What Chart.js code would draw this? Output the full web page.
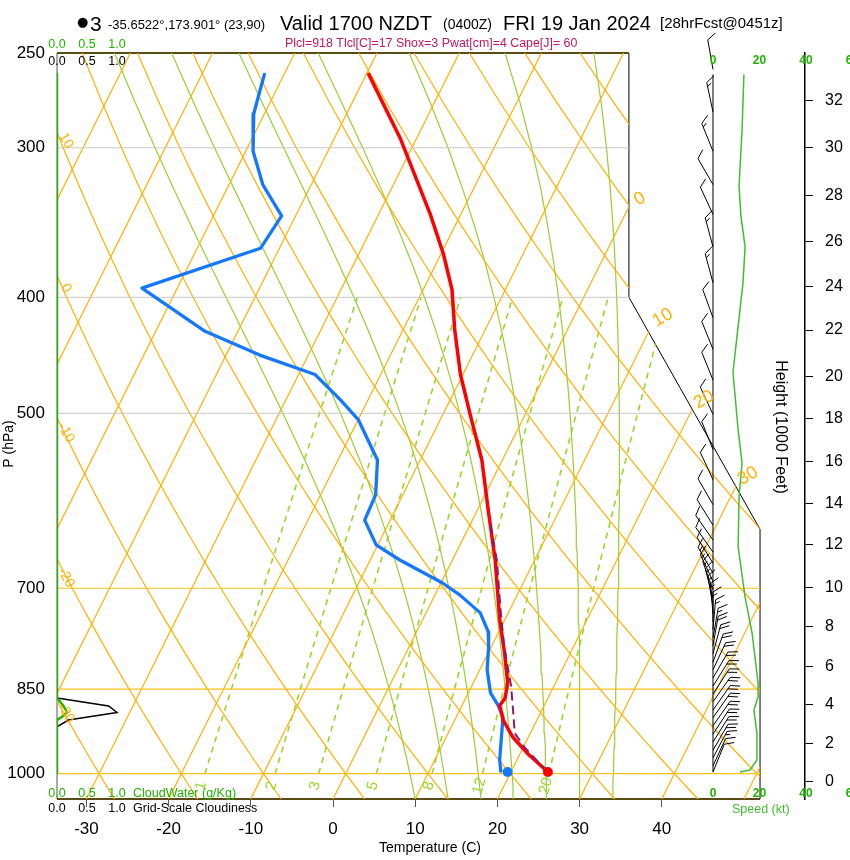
<!DOCTYPE html>
<html>
<head>
<meta charset="utf-8">
<script src="https://cdn.jsdelivr.net/npm/chart.js@4.4.1/dist/chart.umd.min.js"></script>
<style>
  html, body { margin: 0; padding: 0; background: #fff; }
  canvas { display: block; }
</style>
</head>
<body>
<canvas id="skewt" width="850" height="860"></canvas>
<script>
// --- sounding ---
const tempP = [260.5, 295, 341, 368, 394, 426, 464, 501, 547, 602, 663, 744, 793, 840, 865, 877, 902, 932, 961, 997];
const tempC = [-39.7, -31.9, -23.7, -19.7, -16.5, -13.7, -10.3, -6.7, -2.5, 1.3, 5.2, 9.4, 12.0, 14.2, 14.8, 14.6, 15.9, 18.1, 20.8, 24.5];

const dewP = [260.5, 281, 302, 322, 342, 364, 393, 427, 447, 464, 487, 506, 547, 585, 614, 644, 663, 693, 709, 734, 761, 784, 819, 856, 877, 897, 974, 995];
const dewC = [-52.4, -51.3, -49.1, -45.9, -41.7, -42.3, -54.3, -44.0, -35.9, -28.0, -23.4, -20.0, -15.2, -13.3, -13.1, -10.2, -6.4, 0.2, 3.0, 6.6, 8.7, 9.7, 10.9, 12.7, 14.4, 15.7, 17.9, 18.7];

const parcelP = [997, 950, 925, 885, 845, 814, 778, 730, 663, 614];
const parcelC = [24.5, 20.1, 18.1, 16.5, 14.8, 13.2, 11.3, 8.9, 5.4, 2.1];

const sfcP = 997, sfcT = 24.5, sfcTd = 19.6;

// cloud panel (left strip)
const cloudWaterP = [260, 864.5, 876.6, 888.9, 896.7, 901.9, 1000];
const cloudWater = [0, 0, 0.1, 0.17, 0.08, 0, 0];
const cloudFracP = [260, 864.5, 878, 889, 902, 914, 1000];
const cloudFrac = [0, 0, 0.86, 1.0, 0.19, 0, 0];

// wind speed line (kt)
const speedP = [260.5, 289.6, 323, 342, 363, 389, 423, 462, 516, 550, 587, 646, 712, 763, 840, 863, 885, 925, 974, 993, 997];
const speedKt = [13.3, 12.5, 11.2, 12.0, 13.8, 12.9, 10.8, 8.6, 10.8, 12.5, 11.2, 10.8, 13.8, 16.8, 19.4, 19.4, 17.6, 18.9, 18.9, 15.9, 11.6];

// wind barbs
const windP = [258, 280, 302, 322, 341, 363, 389, 416, 442, 469, 501, 536, 568, 596, 620, 638, 653, 667, 680, 691, 702, 713, 724, 735, 747, 758, 770, 782, 794, 807, 819, 832, 845, 858, 871, 885, 898, 912, 927, 941, 956, 970, 985, 997];
const windDir = [350, 348, 338, 330, 335, 345, 345, 340, 338, 338, 335, 338, 335, 330, 328, 325, 325, 328, 330, 335, 340, 345, 350, 355, 0, 5, 10, 10, 15, 20, 25, 30, 32, 33, 35, 35, 35, 35, 33, 32, 30, 28, 25, 22];
const windKt = [12, 13, 13, 12, 12, 14, 13, 12, 11, 10, 11, 12, 12, 11, 11, 11, 12, 12, 13, 13, 14, 14, 15, 15, 16, 17, 17, 18, 19, 19, 19, 20, 20, 20, 19, 19, 19, 19, 19, 18, 18, 17, 12, 8];

// axes
const tempTicks = [-30, -20, -10, 0, 10, 20, 30, 40];
const pTicks = [250, 300, 400, 500, 700, 850, 1000];
const heightKft = [0, 2, 4, 6, 8, 10, 12, 14, 16, 18, 20, 22, 24, 26, 28, 30, 32];
const heightP = [1016, 943, 876, 814, 754, 699, 644, 595, 549, 505, 466, 426, 392, 359, 329, 300, 274];

// diagram background families (label values)
const isotherms = [-70, -60, -50, -40, -30, -20, -10, 0, 10, 20, 30, 40, 50];
const dryAdiabats = [-30, -20, -10, 0, 10, 20, 30, 40, 50, 60, 70, 80, 90, 100, 110, 120];
const moistStartC = [10, 14, 18, 22, 26, 30, 34];
const mixRatios = [1, 2, 3, 5, 8, 12, 20];
const greyLevels = [300, 400, 500];
const orangeLevels = [700, 850, 1000];
const isoLabelT = [0, 10, 20, 30];
const isoLabelP = [331, 416, 487, 564];
const thetaLabels = [10, 0, -10, -20, -30];
const thetaLabelP = [296, 393, 519, 686, 890];

// outline of the thermo diagram: skewed X and pressure
const boxX = [-33.58, 36.0, 36.0, 51.95, 51.95, -33.58];
const boxP = [250, 250, 400, 625, 1050, 1050];

const P_BOT = 1050, P_TOP = 250;
const SKEW = 31.6;
const X_MIN = -33.58, X_MAX = 57.42;
const SPD_MIN = -282.15, SPD_MAX = 39.57;
const CLD_MAX = 12.47;

const ORANGE = '#ffb000';
const LIME = '#9acd32';
const GREEN = '#20b400';
const FONT = '"Liberation Sans", Arial, sans-serif';

const skewX = (t, p) => t + SKEW * Math.log(P_BOT / p);
const prof = (ps, ts) => ps.map((p, i) => ({ x: skewX(ts[i], p), y: p }));
const strip = (ps, vs) => ps.map((p, i) => ({ x: vs[i], y: p }));

const curveP = Array.from({ length: 33 }, (_, i) => P_BOT - 25 * i);
const mixP = Array.from({ length: 13 }, (_, i) => 1000 - 50 * i);

// thermo helpers for the background lines
const satVap = tc => 6.112 * Math.exp(17.67 * tc / (tc + 243.5));
const dewFromVap = e => { const l = Math.log(e / 6.112); return 243.5 * l / (17.67 - l); };
function moistLapse(tk, p) {
    const es = satVap(tk - 273.15);
    const rs = 0.622 * es / (p - es);
    return (287.04 * tk + 2.501e6 * rs) /
        (p * (1005.7 + 2.501e6 * 2.501e6 * rs * 0.622 / (287.04 * tk * tk)));
}
function moistCurve(t0) {
    let tk = t0 + 273.15, p = P_BOT;
    return curveP.map(target => {
        while (p > target + 1e-6) {
            const dp = -Math.min(5, p - target);
            const k1 = moistLapse(tk, p);
            const k2 = moistLapse(tk + k1 * dp / 2, p + dp / 2);
            tk += k2 * dp; p += dp;
        }
        return { x: skewX(tk - 273.15, target), y: target };
    });
}
const dryCurve = th => curveP.map(p => ({ x: skewX((th + 273.15) * Math.pow(p / 1000, 0.2857) - 273.15, p), y: p }));
const mixCurve = w => mixP.map(p => ({ x: skewX(dewFromVap(w * p / (622 + w)), p), y: p }));

function bg(data, color, width, dash) {
    return { data, borderColor: color, borderWidth: width, borderDash: dash || [], pointRadius: 0,
        tension: 0, fill: false, order: 10, boxClip: true };
}

const datasets = [
    { data: prof(tempP, tempC), borderColor: '#ff0000', borderWidth: 3.5, pointRadius: 0, order: 2,
      borderJoinStyle: 'round', borderCapStyle: 'round' },
    { data: prof(dewP, dewC), borderColor: '#1478ff', borderWidth: 3.3, pointRadius: 0, order: 3,
      borderJoinStyle: 'round', borderCapStyle: 'round' },
    { data: prof(parcelP, parcelC), borderColor: '#8a1a6e', borderWidth: 2, borderDash: [9, 5], pointRadius: 0, order: 1 },
    { data: [{ x: skewX(sfcT, sfcP), y: sfcP }], showLine: false, pointRadius: 5, pointBackgroundColor: '#ff0000', pointBorderWidth: 0, order: 0 },
    { data: [{ x: skewX(sfcTd, sfcP), y: sfcP }], showLine: false, pointRadius: 5, pointBackgroundColor: '#1478ff', pointBorderWidth: 0, order: 0 },
    { data: strip(cloudWaterP, cloudWater), xAxisID: 'xc', borderColor: GREEN, borderWidth: 2.5, pointRadius: 0, order: 4 },
    { data: strip(cloudFracP, cloudFrac), xAxisID: 'xc', borderColor: '#000', borderWidth: 1.5, pointRadius: 0, order: 5 },
    { data: strip(speedP, speedKt), xAxisID: 'xs', borderColor: '#44bb33', borderWidth: 1.5, pointRadius: 0, order: 6 }
];
greyLevels.forEach(p => datasets.push(bg([{ x: X_MIN, y: p }, { x: X_MAX, y: p }], '#c8c8c8', 1)));
orangeLevels.forEach(p => datasets.push(bg([{ x: X_MIN, y: p }, { x: X_MAX, y: p }], '#ffc21a', 1.2)));
isotherms.forEach(t => datasets.push(bg([{ x: skewX(t, P_BOT), y: P_BOT }, { x: skewX(t, P_TOP), y: P_TOP }], ORANGE, 1.2)));
dryAdiabats.forEach(th => datasets.push(bg(dryCurve(th), ORANGE, 1.2)));
moistStartC.forEach(t => datasets.push(bg(moistCurve(t), LIME, 1.2)));
mixRatios.forEach(w => datasets.push(bg(mixCurve(w), '#99d62a', 1.6, [6, 5])));

function boxPath(chart) {
    const { ctx, scales: { x, y } } = chart;
    ctx.beginPath();
    boxX.forEach((v, i) => {
        const px = x.getPixelForValue(v), py = y.getPixelForValue(boxP[i]);
        i ? ctx.lineTo(px, py) : ctx.moveTo(px, py);
    });
    ctx.closePath();
}

function txt(ctx, s, x, y, font, color, align, base, rot) {
    ctx.save();
    ctx.translate(x, y);
    if (rot) ctx.rotate(rot * Math.PI / 180);
    ctx.font = font;
    ctx.fillStyle = color;
    ctx.textAlign = align || 'left';
    ctx.textBaseline = base || 'alphabetic';
    ctx.fillText(s, 0, 0);
    ctx.restore();
}

const diagramPlugin = {
    id: 'diagram',
    beforeDraw(chart) {
        const ctx = chart.ctx;
        ctx.save();
        ctx.fillStyle = '#fff';
        ctx.fillRect(0, 0, chart.width, chart.height);
        ctx.restore();
    },
    beforeDatasetsDraw(chart) {
        const { ctx, scales: { x, y } } = chart;
        const pts = boxX.map((v, i) => [x.getPixelForValue(v), y.getPixelForValue(boxP[i])]);
        ctx.save();
        ctx.lineWidth = 1;
        ctx.strokeStyle = '#000';
        ctx.beginPath();
        ctx.moveTo(pts[1][0], pts[1][1]);
        ctx.lineTo(pts[2][0], pts[2][1]);
        ctx.lineTo(pts[3][0], pts[3][1]);
        ctx.lineTo(pts[4][0], pts[4][1]);
        ctx.stroke();
        ctx.strokeStyle = '#555';
        ctx.beginPath();
        ctx.moveTo(pts[0][0], pts[0][1]);
        ctx.lineTo(pts[5][0], pts[5][1]);
        ctx.stroke();
        ctx.lineWidth = 2;
        ctx.strokeStyle = '#5a4b16';
        ctx.beginPath();
        ctx.moveTo(pts[0][0], pts[0][1]);
        ctx.lineTo(pts[1][0], pts[1][1]);
        ctx.moveTo(pts[5][0], pts[5][1]);
        ctx.lineTo(pts[4][0], pts[4][1]);
        ctx.stroke();
        ctx.restore();
    },
    beforeDatasetDraw(chart, args) {
        if (!chart.data.datasets[args.index].boxClip) return;
        chart.ctx.save();
        boxPath(chart);
        chart.ctx.clip();
    },
    afterDatasetDraw(chart, args) {
        if (!chart.data.datasets[args.index].boxClip) return;
        chart.ctx.restore();
    },
    afterDatasetsDraw(chart) {
        // wind barbs on the speed = 0 line
        const { ctx, scales: { xs, y } } = chart;
        const x0 = xs.getPixelForValue(0);
        ctx.save();
        ctx.strokeStyle = '#000';
        ctx.lineWidth = 1;
        ctx.beginPath();
        ctx.moveTo(x0, y.getPixelForValue(speedP[0]));
        ctx.lineTo(x0, y.getPixelForValue(speedP[speedP.length - 1]));
        ctx.stroke();
        windP.forEach((p, i) => {
            const by = y.getPixelForValue(p);
            const a = windDir[i] * Math.PI / 180;
            const ux = Math.sin(a), uy = -Math.cos(a);
            let bx = 0.8 * -uy + 0.5 * ux, bY = 0.8 * ux + 0.5 * uy;
            const n = Math.hypot(bx, bY); bx /= n; bY /= n;
            const tx = x0 + 30 * ux, ty = by + 30 * uy;
            ctx.beginPath();
            ctx.moveTo(x0, by);
            ctx.lineTo(tx, ty);
            let s = Math.round(windKt[i] / 5) * 5, pos = 0;
            while (s >= 10) {
                const sx = tx - pos * ux, sy = ty - pos * uy;
                ctx.moveTo(sx, sy); ctx.lineTo(sx + 10 * bx, sy + 10 * bY);
                pos += 4; s -= 10;
            }
            if (s >= 5) {
                if (pos === 0) pos = 4;
                const sx = tx - pos * ux, sy = ty - pos * uy;
                ctx.moveTo(sx, sy); ctx.lineTo(sx + 5 * bx, sy + 5 * bY);
            }
            ctx.stroke();
        });
        ctx.restore();
    },
    afterDraw(chart) {
        const { ctx, scales: { x, y, xs, xc } } = chart;
        // title lines
        txt(ctx, '\u25CF', 77, 23, '13px "DejaVu Sans"', '#000', 'left', 'middle');
        txt(ctx, '3', 90, 31, '21px ' + FONT, '#000');
        txt(ctx, '-35.6522\u00B0,173.901\u00B0 (23,90)', 108, 29, '13px ' + FONT, '#000');
        txt(ctx, 'Valid 1700 NZDT', 280, 30, '20px ' + FONT, '#000');
        txt(ctx, '(0400Z)', 443, 29, '14px ' + FONT, '#000');
        txt(ctx, 'FRI 19 Jan 2024', 503, 30, '20px ' + FONT, '#000');
        txt(ctx, '[28hrFcst@0451z]', 660, 28, '15px ' + FONT, '#000');
        txt(ctx, 'Plcl=918 Tlcl[C]=17 Shox=3 Pwat[cm]=4 Cape[J]= 60', 285, 47, '12.4px ' + FONT, '#c01860');

        // cloud strip scale
        const cl = ['0.0', '0.5', '1.0'];
        [0, 0.5, 1.0].forEach((v, i) => {
            const px = xc.getPixelForValue(v);
            txt(ctx, cl[i], px, 48, '12.5px ' + FONT, GREEN, 'center');
            txt(ctx, cl[i], px, 65, '12.5px ' + FONT, '#000', 'center');
            txt(ctx, cl[i], px, 797, '12.5px ' + FONT, GREEN, 'center');
            txt(ctx, cl[i], px, 812, '12.5px ' + FONT, '#000', 'center');
        });
        txt(ctx, 'CloudWater (g/Kg)', 133, 797, '12.5px ' + FONT, GREEN);
        txt(ctx, 'Grid-Scale Cloudiness', 133, 812, '12.5px ' + FONT, '#000');

        // speed scale
        [0, 20, 40, 60].forEach(v => {
            const px = xs.getPixelForValue(v);
            txt(ctx, String(v), px, 64, 'bold 12px ' + FONT, GREEN, 'center');
            txt(ctx, String(v), px, 797, 'bold 12px ' + FONT, GREEN, 'center');
        });
        txt(ctx, 'Speed (kt)', 732, 813, '12.5px ' + FONT, '#44bb33');

        // axis titles
        txt(ctx, 'P (hPa)', 9, 444, '14px ' + FONT, '#000', 'center', 'middle', -90);
        txt(ctx, 'Temperature (C)', 430, 852, '14px ' + FONT, '#000', 'center');
        txt(ctx, 'Height (1000 Feet)', 780, 427, '16px ' + FONT, '#000', 'center', 'middle', 90);

        // isotherm labels on the right edge
        isoLabelT.forEach((t, i) => {
            const p = isoLabelP[i];
            txt(ctx, String(t), x.getPixelForValue(skewX(t, p)) + 7, y.getPixelForValue(p),
                '18px ' + FONT, ORANGE, 'center', 'middle', -30);
        });
        // dry adiabat labels on the left edge
        thetaLabels.forEach((th, i) => {
            txt(ctx, String(th), chart.chartArea.left + 9, y.getPixelForValue(thetaLabelP[i]),
                '14px ' + FONT, ORANGE, 'center', 'middle', 60);
        });
        // mixing ratio labels at the bottom
        mixRatios.forEach(w => {
            const p = 1024;
            const px = x.getPixelForValue(skewX(dewFromVap(w * p / (622 + w)), p));
            txt(ctx, String(w), px, y.getPixelForValue(p), '15px ' + FONT, '#99d62a', 'center', 'middle', -75);
        });
    }
};

Chart.defaults.font.family = FONT;

new Chart(document.getElementById('skewt'), {
    type: 'line',
    data: { datasets },
    options: {
        responsive: false,
        animation: false,
        devicePixelRatio: 1,
        events: [],
        layout: { padding: { top: 53, left: 0, right: 0, bottom: 0 } },
        plugins: { legend: { display: false }, tooltip: { enabled: false } },
        scales: {
            x: {
                type: 'linear', position: 'bottom', min: X_MIN, max: X_MAX,
                afterFit: s => { s.height = 61; },
                afterBuildTicks: s => { s.ticks = tempTicks.map(v => ({ value: v })); },
                ticks: { autoSkip: false, maxRotation: 0, padding: 12, color: '#000', font: { size: 17 } },
                grid: { drawOnChartArea: false, tickLength: 8, color: '#555' },
                border: { display: false }
            },
            y: {
                type: 'logarithmic', position: 'left', reverse: true, min: P_TOP, max: P_BOT,
                afterFit: s => { s.width = 57; },
                afterBuildTicks: s => { s.ticks = pTicks.map(v => ({ value: v })); },
                ticks: { autoSkip: false, padding: 12, color: '#000', font: { size: 17 }, callback: v => String(v) },
                grid: { display: false, drawTicks: false },
                border: { display: false }
            },
            yH: {
                axis: 'y', type: 'logarithmic', position: 'right', reverse: true, min: P_TOP, max: P_BOT,
                afterFit: s => { s.width = 45; },
                afterBuildTicks: s => { s.ticks = heightP.map(v => ({ value: v })); },
                ticks: { autoSkip: false, padding: 12, color: '#000', font: { size: 16 }, callback: (v, i) => String(heightKft[i]) },
                grid: { drawOnChartArea: false, tickLength: 8, color: '#000' },
                border: { display: true, color: '#000', width: 1.5 }
            },
            xs: { axis: 'x', type: 'linear', display: false, min: SPD_MIN, max: SPD_MAX },
            xc: { axis: 'x', type: 'linear', display: false, min: 0, max: CLD_MAX }
        }
    },
    plugins: [diagramPlugin]
});
</script>
</body>
</html>
